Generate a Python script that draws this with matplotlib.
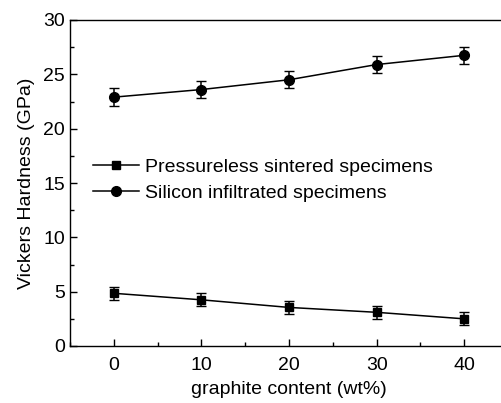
import matplotlib
matplotlib.use('Agg')
import matplotlib.pyplot as plt
from matplotlib.ticker import MultipleLocator

plt.rcParams['font.family'] = ['Liberation Sans', 'DejaVu Sans']

# graphite content (wt%)
graphite = [0, 10, 20, 30, 40]

# Vickers hardness (GPa) and error bars
pressureless = [4.85, 4.25, 3.55, 3.1, 2.5]
pressureless_err = [0.6, 0.6, 0.6, 0.6, 0.6]
silicon = [22.9, 23.6, 24.5, 25.9, 26.75]
silicon_err = [0.8, 0.8, 0.8, 0.8, 0.8]

fig = plt.figure(figsize=(5.02, 4.03), dpi=100)
# right spine sits just past the canvas edge
ax = fig.add_axes([70 / 502, 1 - 346 / 403, 438 / 502, 326 / 403])

eb1 = ax.errorbar(graphite, pressureless, yerr=pressureless_err, color='black',
                  marker='s', markersize=6, lw=1.1, capsize=3.5, elinewidth=1.1)
eb2 = ax.errorbar(graphite, silicon, yerr=silicon_err, color='black',
                  marker='o', markersize=7, lw=1.1, capsize=3.5, elinewidth=1.1)

ax.set_xlim(-5, 45)
ax.set_ylim(0, 30)
ax.xaxis.set_major_locator(MultipleLocator(10))
ax.xaxis.set_minor_locator(MultipleLocator(5))
ax.yaxis.set_major_locator(MultipleLocator(5))
ax.yaxis.set_minor_locator(MultipleLocator(2.5))
ax.tick_params(which='both', direction='in', top=False, right=False,
               labelsize=14, width=1)
ax.tick_params(which='major', length=5)
ax.tick_params(which='minor', length=3)
ax.tick_params(axis='x', pad=8)
for s in ax.spines.values():
    s.set_linewidth(1)

ax.set_xlabel('graphite content (wt%)', fontsize=14, labelpad=5)
ax.set_ylabel('Vickers Hardness (GPa)', fontsize=14, labelpad=6)

ax.legend([eb1[0], eb2[0]],
          ['Pressureless sintered specimens', 'Silicon infiltrated specimens'],
          loc='upper left', bbox_to_anchor=(0.034, 0.6), frameon=False,
          fontsize=14, handlelength=2.4, handletextpad=0.3,
          labelspacing=0.45, borderaxespad=0)

fig.savefig('out.png', dpi=100)
